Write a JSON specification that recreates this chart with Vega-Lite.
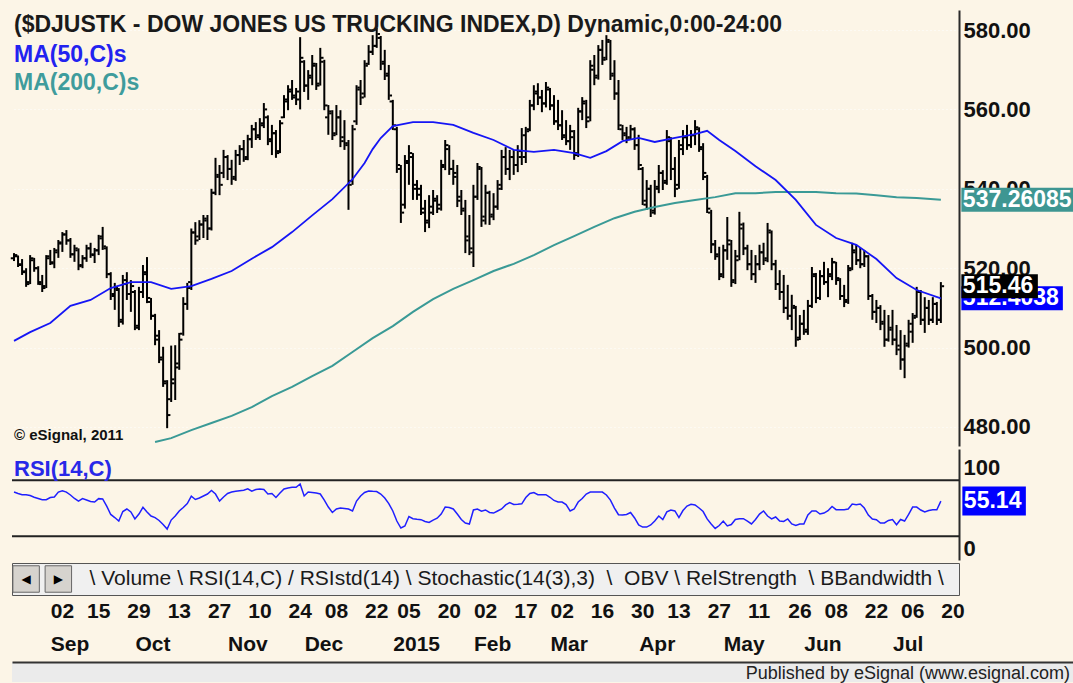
{
"$schema":"https://vega.github.io/schema/vega-lite/v6.json",
"background":"#FCF5E7",
"padding":{"left":10,"top":10,"right":0,"bottom":0},
"config":{"view":{"stroke":null},"font":"Liberation Sans","axis":{"labelFont":"Liberation Sans"}},
"datasets":{
"bars":[
{"d":"2014-08-19","o":522.5,"h":523.8,"l":521.8,"c":523.3,"r":61.6},
{"d":"2014-08-20","o":523,"h":523.2,"l":520.3,"c":520.8,"r":60.6},
{"d":"2014-08-21","o":521,"h":522.3,"l":518.3,"c":519,"r":59.7},
{"d":"2014-08-22","o":519.2,"h":520,"l":515.3,"c":516,"r":59.7},
{"d":"2014-08-25","o":516.5,"h":523.3,"l":516,"c":522.5,"r":59.1},
{"d":"2014-08-26","o":522,"h":522.6,"l":519.1,"c":520,"r":57.9},
{"d":"2014-08-27","o":520,"h":520.5,"l":515.8,"c":516.5,"r":57},
{"d":"2014-08-28","o":516,"h":518.3,"l":514,"c":515,"r":56.1},
{"d":"2014-08-29","o":515.5,"h":523.3,"l":515,"c":522.5,"r":56.1},
{"d":"2014-09-02","o":523,"h":524.6,"l":520.8,"c":521.5,"r":57.7},
{"d":"2014-09-03","o":521.2,"h":525.1,"l":520,"c":524.5,"r":58.1},
{"d":"2014-09-04","o":524,"h":527.1,"l":522.6,"c":526.5,"r":61.6},
{"d":"2014-09-05","o":526.2,"h":529.1,"l":524.1,"c":528.5,"r":62.5},
{"d":"2014-09-08","o":528.5,"h":529.6,"l":525.9,"c":527,"r":61.6},
{"d":"2014-09-09","o":527,"h":527.6,"l":522.6,"c":523.5,"r":59.5},
{"d":"2014-09-10","o":523.5,"h":525.9,"l":521.6,"c":525,"r":57},
{"d":"2014-09-11","o":524.5,"h":525,"l":519.5,"c":520.5,"r":55.2},
{"d":"2014-09-12","o":520.8,"h":523.3,"l":520,"c":522.5,"r":56.9},
{"d":"2014-09-15","o":522.5,"h":525.9,"l":521.6,"c":525,"r":55.9},
{"d":"2014-09-16","o":525,"h":526.4,"l":522.6,"c":523.5,"r":54.9},
{"d":"2014-09-17","o":523.3,"h":525.1,"l":521.3,"c":524.5,"r":54.5},
{"d":"2014-09-18","o":524.5,"h":528.4,"l":523.3,"c":527.5,"r":56.9},
{"d":"2014-09-19","o":528,"h":530.4,"l":524.6,"c":525.5,"r":56.7},
{"d":"2014-09-22","o":525,"h":525.5,"l":517.5,"c":518.5,"r":51.6},
{"d":"2014-09-23","o":518.5,"h":519,"l":512,"c":513.5,"r":45.6},
{"d":"2014-09-24","o":513,"h":516.3,"l":509.5,"c":515,"r":43.4},
{"d":"2014-09-25","o":514.5,"h":515,"l":505.2,"c":506.5,"r":40.9},
{"d":"2014-09-26","o":507,"h":518.3,"l":505.8,"c":517,"r":47.7},
{"d":"2014-09-29","o":516,"h":519,"l":512,"c":513.5,"r":49.5},
{"d":"2014-09-30","o":513.5,"h":517,"l":509,"c":515.5,"r":47.4},
{"d":"2014-10-01","o":514,"h":514.5,"l":504.4,"c":505.5,"r":42.4},
{"d":"2014-10-02","o":505,"h":515.3,"l":504.4,"c":514,"r":45.9},
{"d":"2014-10-03","o":514,"h":520.8,"l":512.5,"c":518.5,"r":50.7},
{"d":"2014-10-06","o":519,"h":522.8,"l":511.2,"c":512.5,"r":47.4},
{"d":"2014-10-07","o":511.5,"h":512.5,"l":507,"c":508,"r":44.5},
{"d":"2014-10-08","o":508,"h":508.5,"l":500.6,"c":502,"r":43.4},
{"d":"2014-10-09","o":503,"h":504.4,"l":496.1,"c":497.5,"r":41.3},
{"d":"2014-10-10","o":497,"h":500.2,"l":490.1,"c":491.5,"r":38.4},
{"d":"2014-10-13","o":491,"h":491.8,"l":479.7,"c":483,"r":35.2},
{"d":"2014-10-14","o":487,"h":500.5,"l":486.3,"c":492,"r":41.6},
{"d":"2014-10-15","o":491,"h":500.6,"l":486.8,"c":495,"r":44.5},
{"d":"2014-10-16","o":496,"h":503.7,"l":494.4,"c":502,"r":48.1},
{"d":"2014-10-17","o":503.5,"h":512.7,"l":503,"c":511,"r":50.6},
{"d":"2014-10-20","o":511,"h":516.3,"l":509.5,"c":515,"r":53.4},
{"d":"2014-10-21","o":516.5,"h":530,"l":514.5,"c":529,"r":58.6},
{"d":"2014-10-22","o":529,"h":531.6,"l":525.9,"c":527,"r":56.3},
{"d":"2014-10-23","o":528,"h":532.1,"l":527.1,"c":531,"r":57.4},
{"d":"2014-10-24","o":531,"h":533.4,"l":527.6,"c":532.5,"r":58.8},
{"d":"2014-10-27","o":532,"h":533.4,"l":527.1,"c":530,"r":60.2},
{"d":"2014-10-28","o":530,"h":540,"l":529.5,"c":539,"r":62.7},
{"d":"2014-10-29","o":539,"h":547.8,"l":538.4,"c":543.5,"r":60.2},
{"d":"2014-10-30","o":543,"h":546,"l":538.4,"c":541,"r":55.2},
{"d":"2014-10-31","o":544,"h":549.8,"l":542.7,"c":548,"r":58.1},
{"d":"2014-11-03","o":548,"h":548.5,"l":542.2,"c":545,"r":60.6},
{"d":"2014-11-04","o":545,"h":547.3,"l":541,"c":542.5,"r":61.6},
{"d":"2014-11-05","o":543,"h":549.8,"l":542,"c":548.5,"r":62.1},
{"d":"2014-11-06","o":548.5,"h":551,"l":546,"c":550,"r":62.6},
{"d":"2014-11-07","o":550,"h":552.3,"l":546.8,"c":547.5,"r":62.9},
{"d":"2014-11-10","o":548,"h":553.6,"l":547.2,"c":552.5,"r":63.9},
{"d":"2014-11-11","o":552.5,"h":556.1,"l":550.3,"c":555,"r":62.2},
{"d":"2014-11-12","o":555,"h":556.8,"l":552.3,"c":553,"r":63.4},
{"d":"2014-11-13","o":553.5,"h":557.8,"l":552.3,"c":556.5,"r":63.8},
{"d":"2014-11-14","o":556,"h":561.6,"l":555.3,"c":560,"r":63.4},
{"d":"2014-11-17","o":558,"h":558.5,"l":551,"c":552.5,"r":60.2},
{"d":"2014-11-18","o":552,"h":556.1,"l":548.5,"c":554,"r":60.6},
{"d":"2014-11-19","o":554,"h":554.8,"l":547.8,"c":549,"r":57.7},
{"d":"2014-11-20","o":549.5,"h":557.3,"l":549,"c":556.5,"r":60.9},
{"d":"2014-11-21","o":558,"h":563.6,"l":557.8,"c":562.5,"r":63.8},
{"d":"2014-11-24","o":562,"h":566.1,"l":559.8,"c":564.5,"r":64.5},
{"d":"2014-11-25","o":565,"h":567.4,"l":562.4,"c":563.5,"r":65},
{"d":"2014-11-26","o":563,"h":565.4,"l":561.1,"c":564.5,"r":65},
{"d":"2014-11-28","o":562.5,"h":578.2,"l":560,"c":573,"r":67.4},
{"d":"2014-12-01","o":572,"h":572.4,"l":564.4,"c":566,"r":58.8},
{"d":"2014-12-02","o":566,"h":569.9,"l":562.4,"c":568.5,"r":61.6},
{"d":"2014-12-03","o":568,"h":573.7,"l":566.1,"c":571.5,"r":61.3},
{"d":"2014-12-04","o":571,"h":571.7,"l":564.9,"c":566,"r":60.9},
{"d":"2014-12-05","o":566.5,"h":575.5,"l":566,"c":573,"r":60.2},
{"d":"2014-12-08","o":572,"h":572.5,"l":559.8,"c":561,"r":55.9},
{"d":"2014-12-09","o":558,"h":561.1,"l":553.6,"c":559.5,"r":50.9},
{"d":"2014-12-10","o":559,"h":559.8,"l":552.3,"c":553.5,"r":47},
{"d":"2014-12-11","o":554,"h":561.1,"l":553.5,"c":558,"r":49.5},
{"d":"2014-12-12","o":558,"h":559.8,"l":550.5,"c":552,"r":50.2},
{"d":"2014-12-15","o":553,"h":557.3,"l":549.8,"c":551.5,"r":49.9},
{"d":"2014-12-16","o":551,"h":552.3,"l":534.7,"c":541,"r":49.5},
{"d":"2014-12-17","o":542,"h":556.1,"l":541,"c":555,"r":48.1},
{"d":"2014-12-18","o":557,"h":566.1,"l":556.1,"c":565,"r":55.2},
{"d":"2014-12-19","o":565.5,"h":567.4,"l":561.1,"c":563,"r":58.8},
{"d":"2014-12-22","o":564,"h":572.4,"l":563,"c":571,"r":61.3},
{"d":"2014-12-23","o":571.5,"h":576.2,"l":571.2,"c":574.5,"r":62.4},
{"d":"2014-12-24","o":574.5,"h":578.7,"l":573.7,"c":576,"r":62.1},
{"d":"2014-12-26","o":576,"h":580.5,"l":575.5,"c":579,"r":62},
{"d":"2014-12-29","o":578,"h":578.5,"l":569.9,"c":571.5,"r":60.2},
{"d":"2014-12-30","o":572,"h":575,"l":567.4,"c":568.5,"r":57.4},
{"d":"2014-12-31","o":569,"h":571.2,"l":562.4,"c":563.5,"r":53.4},
{"d":"2015-01-02","o":562,"h":562.4,"l":554.8,"c":556,"r":48.1},
{"d":"2015-01-05","o":555,"h":555.6,"l":544,"c":546,"r":40.9},
{"d":"2015-01-06","o":545,"h":546,"l":531.4,"c":534,"r":35.9},
{"d":"2015-01-07","o":536,"h":548.5,"l":535,"c":546.5,"r":37.4},
{"d":"2015-01-08","o":547,"h":551,"l":541,"c":549,"r":44.1},
{"d":"2015-01-09","o":548,"h":549,"l":537.2,"c":540,"r":42.6},
{"d":"2015-01-12","o":541,"h":542.2,"l":537.2,"c":538.5,"r":42.2},
{"d":"2015-01-13","o":540,"h":541,"l":533.4,"c":535,"r":41.9},
{"d":"2015-01-14","o":534,"h":537.2,"l":529.1,"c":531.5,"r":40.6},
{"d":"2015-01-15","o":532,"h":538.4,"l":530.1,"c":535.5,"r":39.9},
{"d":"2015-01-16","o":534,"h":539.7,"l":533.4,"c":537.5,"r":41.6},
{"d":"2015-01-20","o":537,"h":538.4,"l":533.9,"c":535,"r":42.9},
{"d":"2015-01-21","o":536,"h":547.3,"l":534.5,"c":545.5,"r":45.9},
{"d":"2015-01-22","o":546,"h":552.3,"l":544.7,"c":551,"r":50.9},
{"d":"2015-01-23","o":550,"h":551,"l":543.5,"c":545,"r":50.6},
{"d":"2015-01-26","o":545,"h":547.3,"l":541,"c":544,"r":49.5},
{"d":"2015-01-27","o":543,"h":546,"l":535.4,"c":537,"r":45.9},
{"d":"2015-01-28","o":538,"h":539.7,"l":533.4,"c":534.5,"r":42},
{"d":"2015-01-29","o":535,"h":537.2,"l":523.8,"c":527,"r":39.5},
{"d":"2015-01-30","o":528,"h":533.4,"l":523.3,"c":525,"r":38.8},
{"d":"2015-02-02","o":524,"h":541,"l":520.3,"c":538,"r":48.8},
{"d":"2015-02-03","o":538,"h":546.5,"l":537.2,"c":545.5,"r":49.5},
{"d":"2015-02-04","o":545,"h":545.5,"l":530.4,"c":532,"r":47.9},
{"d":"2015-02-05","o":533,"h":541,"l":531,"c":539,"r":48.8},
{"d":"2015-02-06","o":539,"h":539.5,"l":530.9,"c":533,"r":47},
{"d":"2015-02-09","o":533.5,"h":538.9,"l":532.1,"c":535.5,"r":46.6},
{"d":"2015-02-10","o":535.5,"h":542.2,"l":534.7,"c":541,"r":48.1},
{"d":"2015-02-11","o":540,"h":549.8,"l":539.7,"c":548,"r":49.5},
{"d":"2015-02-12","o":548,"h":550.5,"l":543.5,"c":545,"r":52.4},
{"d":"2015-02-13","o":545,"h":549.8,"l":542.2,"c":548,"r":54.1},
{"d":"2015-02-17","o":548,"h":549.8,"l":543.5,"c":546,"r":52.7},
{"d":"2015-02-18","o":546,"h":551,"l":544.2,"c":549.5,"r":52.9},
{"d":"2015-02-19","o":548,"h":555.3,"l":546,"c":553.5,"r":53.2},
{"d":"2015-02-20","o":548,"h":555.6,"l":546.5,"c":554.5,"r":57.7},
{"d":"2015-02-23","o":555,"h":562.4,"l":554.5,"c":561,"r":60.6},
{"d":"2015-02-24","o":561,"h":566.1,"l":559.8,"c":564,"r":61.3},
{"d":"2015-02-25","o":564.5,"h":566.6,"l":561.1,"c":563,"r":59.7},
{"d":"2015-02-26","o":563,"h":564.9,"l":559.3,"c":561.5,"r":59.7},
{"d":"2015-02-27","o":561.5,"h":566.9,"l":560.5,"c":565.5,"r":59.7},
{"d":"2015-03-02","o":565,"h":565.4,"l":559.8,"c":561,"r":57.9},
{"d":"2015-03-03","o":561,"h":563.6,"l":556.1,"c":557,"r":55.6},
{"d":"2015-03-04","o":557,"h":562.4,"l":554.8,"c":556,"r":54.5},
{"d":"2015-03-05","o":556,"h":559.8,"l":552.3,"c":553.5,"r":54.5},
{"d":"2015-03-06","o":553,"h":557.3,"l":551,"c":552,"r":52.7},
{"d":"2015-03-09","o":552,"h":556.1,"l":549.8,"c":554.5,"r":48.1},
{"d":"2015-03-10","o":553,"h":554.8,"l":547.3,"c":548.5,"r":49.5},
{"d":"2015-03-11","o":549,"h":560.4,"l":548,"c":559.5,"r":54.5},
{"d":"2015-03-12","o":559.5,"h":563.1,"l":557.3,"c":562,"r":57},
{"d":"2015-03-13","o":561.5,"h":562.4,"l":555.3,"c":557,"r":60.2},
{"d":"2015-03-16","o":558,"h":572.4,"l":557,"c":571,"r":61.6},
{"d":"2015-03-17","o":570,"h":573.7,"l":566.1,"c":568,"r":61.6},
{"d":"2015-03-18","o":568.5,"h":576.2,"l":567.5,"c":575,"r":61.6},
{"d":"2015-03-19","o":575,"h":577.5,"l":571.2,"c":572.5,"r":61.6},
{"d":"2015-03-20","o":573,"h":578.7,"l":572.4,"c":577.5,"r":59.5},
{"d":"2015-03-23","o":577,"h":577.5,"l":567.4,"c":568.5,"r":55.9},
{"d":"2015-03-24","o":569,"h":572.4,"l":562.4,"c":564,"r":50.2},
{"d":"2015-03-25","o":564,"h":567.4,"l":554.8,"c":556,"r":45.4},
{"d":"2015-03-26","o":555,"h":556.1,"l":552.3,"c":554,"r":45.2},
{"d":"2015-03-27","o":553.5,"h":555.6,"l":551.5,"c":552.5,"r":45.6},
{"d":"2015-03-30","o":553,"h":556.1,"l":552.3,"c":555,"r":47},
{"d":"2015-03-31","o":555,"h":555.5,"l":549.8,"c":551,"r":43.1},
{"d":"2015-04-01","o":551,"h":553.6,"l":544.7,"c":546,"r":38.1},
{"d":"2015-04-02","o":545,"h":545.5,"l":535.9,"c":537,"r":36.6},
{"d":"2015-04-06","o":536,"h":542.2,"l":534.7,"c":540,"r":36.6},
{"d":"2015-04-07","o":540,"h":541,"l":532.9,"c":534,"r":38.1},
{"d":"2015-04-08","o":534.5,"h":542.2,"l":533.5,"c":540.5,"r":40.9},
{"d":"2015-04-09","o":540,"h":546,"l":538.9,"c":544,"r":44.5},
{"d":"2015-04-10","o":544,"h":544.7,"l":539.7,"c":541.5,"r":42},
{"d":"2015-04-13","o":542,"h":554.8,"l":541,"c":553,"r":47.4},
{"d":"2015-04-14","o":552,"h":553,"l":542.2,"c":545,"r":48.8},
{"d":"2015-04-15","o":545,"h":548,"l":537.9,"c":540,"r":48.1},
{"d":"2015-04-16","o":541,"h":552.3,"l":540,"c":551,"r":43.4},
{"d":"2015-04-17","o":550,"h":554.8,"l":548.5,"c":553,"r":48.4},
{"d":"2015-04-20","o":553,"h":556.1,"l":549.8,"c":551,"r":51.6},
{"d":"2015-04-21","o":551,"h":554.8,"l":550.3,"c":553.5,"r":52.9},
{"d":"2015-04-22","o":553.5,"h":557.3,"l":551,"c":555.5,"r":52.4},
{"d":"2015-04-23","o":555,"h":555.5,"l":549.3,"c":550.5,"r":50.2},
{"d":"2015-04-24","o":550,"h":551.5,"l":542.2,"c":544,"r":47.7},
{"d":"2015-04-27","o":543,"h":543.5,"l":533.9,"c":535,"r":42.4},
{"d":"2015-04-28","o":534,"h":534.7,"l":523.8,"c":526,"r":38.8},
{"d":"2015-04-29","o":526,"h":527.1,"l":522.1,"c":523.5,"r":35.6},
{"d":"2015-04-30","o":523,"h":525.4,"l":517,"c":518,"r":37.7},
{"d":"2015-05-01","o":518.5,"h":525.9,"l":517.5,"c":524.5,"r":40.9},
{"d":"2015-05-04","o":524.5,"h":532.9,"l":522.1,"c":527,"r":37.4},
{"d":"2015-05-05","o":526,"h":527.1,"l":515.3,"c":516.5,"r":38.4},
{"d":"2015-05-06","o":517,"h":524.6,"l":516,"c":522,"r":42},
{"d":"2015-05-07","o":523,"h":534.2,"l":522,"c":530,"r":42.6},
{"d":"2015-05-08","o":531,"h":531.5,"l":523.3,"c":525,"r":42.6},
{"d":"2015-05-11","o":525,"h":525.9,"l":519.5,"c":521,"r":40.9},
{"d":"2015-05-12","o":521,"h":524.6,"l":517,"c":518.5,"r":38.8},
{"d":"2015-05-13","o":518.5,"h":523.3,"l":516.3,"c":521,"r":42},
{"d":"2015-05-14","o":521,"h":525.9,"l":519.5,"c":524,"r":45.9},
{"d":"2015-05-15","o":524,"h":526.4,"l":520.8,"c":522,"r":48.1},
{"d":"2015-05-18","o":522.5,"h":531.4,"l":521.5,"c":529.5,"r":44.5},
{"d":"2015-05-19","o":529,"h":529.5,"l":519.5,"c":521,"r":42.4},
{"d":"2015-05-20","o":521,"h":522.1,"l":514.5,"c":516,"r":43.8},
{"d":"2015-05-21","o":516,"h":519.5,"l":512,"c":514,"r":40.9},
{"d":"2015-05-22","o":514,"h":518.3,"l":508.7,"c":510,"r":40.6},
{"d":"2015-05-26","o":510,"h":515.8,"l":507,"c":508,"r":42.4},
{"d":"2015-05-27","o":508,"h":513.3,"l":504.4,"c":510.5,"r":38.8},
{"d":"2015-05-28","o":510,"h":510.5,"l":500.2,"c":502,"r":37.7},
{"d":"2015-05-29","o":502.5,"h":508.2,"l":501.9,"c":506,"r":38.8},
{"d":"2015-06-01","o":506,"h":509.5,"l":503.2,"c":504.5,"r":38.8},
{"d":"2015-06-02","o":504,"h":512,"l":503.2,"c":510.5,"r":45.2},
{"d":"2015-06-03","o":510.5,"h":520.3,"l":510,"c":518.5,"r":48.1},
{"d":"2015-06-04","o":518,"h":518.8,"l":511.2,"c":512.5,"r":48.1},
{"d":"2015-06-05","o":512.5,"h":519.5,"l":512,"c":518,"r":45.9},
{"d":"2015-06-08","o":518,"h":521.6,"l":515.8,"c":516.5,"r":46.6},
{"d":"2015-06-09","o":516.5,"h":520,"l":512.7,"c":518,"r":48.3},
{"d":"2015-06-10","o":518.5,"h":522.6,"l":517,"c":521.5,"r":51.3},
{"d":"2015-06-11","o":521.5,"h":521.6,"l":515.8,"c":517.5,"r":49},
{"d":"2015-06-12","o":517,"h":517.5,"l":512,"c":513,"r":49},
{"d":"2015-06-15","o":513,"h":515.8,"l":510.2,"c":511.5,"r":49},
{"d":"2015-06-16","o":512,"h":520.8,"l":511,"c":519.5,"r":49.5},
{"d":"2015-06-17","o":520,"h":526.4,"l":519.5,"c":524.5,"r":53.1},
{"d":"2015-06-18","o":524,"h":525.9,"l":520.8,"c":522,"r":52.6},
{"d":"2015-06-19","o":522,"h":525.1,"l":520,"c":521,"r":53.1},
{"d":"2015-06-22","o":521,"h":524.6,"l":520.3,"c":523,"r":50.2},
{"d":"2015-06-23","o":523,"h":523.3,"l":512,"c":513,"r":45.2},
{"d":"2015-06-24","o":513,"h":513.5,"l":507,"c":509,"r":42.4},
{"d":"2015-06-25","o":509,"h":512,"l":506.2,"c":510,"r":41.9},
{"d":"2015-06-26","o":510,"h":510.7,"l":504.4,"c":506.5,"r":39.5},
{"d":"2015-06-29","o":506,"h":509.5,"l":500.2,"c":502,"r":39.5},
{"d":"2015-06-30","o":502,"h":508.2,"l":501.5,"c":504.5,"r":41.3},
{"d":"2015-07-01","o":505,"h":509.5,"l":500.6,"c":502,"r":42},
{"d":"2015-07-02","o":502,"h":505.7,"l":498.1,"c":500.5,"r":38.3},
{"d":"2015-07-06","o":499.5,"h":504.4,"l":494.4,"c":497,"r":42},
{"d":"2015-07-07","o":497,"h":503.2,"l":492.3,"c":501,"r":40.9},
{"d":"2015-07-08","o":500.5,"h":507,"l":500,"c":506,"r":45.6},
{"d":"2015-07-09","o":504,"h":508.7,"l":501.2,"c":507.5,"r":50.9},
{"d":"2015-07-10","o":508,"h":515.3,"l":507.5,"c":514,"r":50.9},
{"d":"2015-07-13","o":514,"h":514.5,"l":505.7,"c":507,"r":48.8},
{"d":"2015-07-14","o":507,"h":512.7,"l":503.7,"c":510,"r":47.4},
{"d":"2015-07-15","o":510,"h":512,"l":505.7,"c":507,"r":48.4},
{"d":"2015-07-16","o":507,"h":512.7,"l":506.2,"c":511,"r":49},
{"d":"2015-07-17","o":511,"h":511.5,"l":505.7,"c":507,"r":49},
{"d":"2015-07-20","o":507,"h":516.5,"l":506.2,"c":515.46,"r":55.14},
{"d":"2015-07-21"},{"d":"2015-07-22"},{"d":"2015-07-23"},{"d":"2015-07-24"}
],
"ma50":[
{"d":"2014-08-19","v":501.7},{"d":"2014-08-25","v":503.9},{"d":"2014-09-02","v":506.2},{"d":"2014-09-09","v":510.5},{"d":"2014-09-16","v":512},{"d":"2014-09-23","v":515},{"d":"2014-09-30","v":516.5},{"d":"2014-10-07","v":516.5},{"d":"2014-10-14","v":514.8},{"d":"2014-10-21","v":515.5},{"d":"2014-10-28","v":517.3},{"d":"2014-11-04","v":519.3},{"d":"2014-11-11","v":522.4},{"d":"2014-11-18","v":525.3},{"d":"2014-11-25","v":529.1},{"d":"2014-12-03","v":533.3},{"d":"2014-12-10","v":537.4},{"d":"2014-12-17","v":542.4},{"d":"2014-12-22","v":546.5},{"d":"2014-12-24","v":550},{"d":"2014-12-29","v":552.8},{"d":"2015-01-02","v":555.8},{"d":"2015-01-09","v":556.8},{"d":"2015-01-16","v":556.8},{"d":"2015-01-26","v":556.1},{"d":"2015-02-02","v":554.1},{"d":"2015-02-09","v":552.3},{"d":"2015-02-17","v":549.8},{"d":"2015-02-24","v":549.3},{"d":"2015-03-03","v":549.8},{"d":"2015-03-10","v":549},{"d":"2015-03-16","v":547.8},{"d":"2015-03-20","v":549.5},{"d":"2015-03-26","v":552},{"d":"2015-04-01","v":552.8},{"d":"2015-04-08","v":551.8},{"d":"2015-04-15","v":552.8},{"d":"2015-04-22","v":553.8},{"d":"2015-04-27","v":554.6},{"d":"2015-04-30","v":552.3},{"d":"2015-05-06","v":549.5},{"d":"2015-05-13","v":545.7},{"d":"2015-05-20","v":542.2},{"d":"2015-05-28","v":537.2},{"d":"2015-06-04","v":530.9},{"d":"2015-06-11","v":527.6},{"d":"2015-06-18","v":525.9},{"d":"2015-06-25","v":522.3},{"d":"2015-07-02","v":517.5},{"d":"2015-07-10","v":514.5},{"d":"2015-07-20","v":512.4038}
],
"ma200":[
{"d":"2014-10-08","v":476.2},{"d":"2014-10-14","v":477.2},{"d":"2014-10-21","v":479.2},{"d":"2014-10-28","v":481},{"d":"2014-11-04","v":482.8},{"d":"2014-11-11","v":485},{"d":"2014-11-18","v":487.8},{"d":"2014-11-25","v":490.1},{"d":"2014-12-03","v":492.8},{"d":"2014-12-10","v":495.4},{"d":"2014-12-17","v":498.9},{"d":"2014-12-24","v":502.4},{"d":"2015-01-02","v":505.4},{"d":"2015-01-09","v":509},{"d":"2015-01-16","v":512.2},{"d":"2015-01-26","v":514.8},{"d":"2015-02-02","v":517},{"d":"2015-02-09","v":519.3},{"d":"2015-02-17","v":521.1},{"d":"2015-02-24","v":523.3},{"d":"2015-03-03","v":525.8},{"d":"2015-03-10","v":528.1},{"d":"2015-03-17","v":530.4},{"d":"2015-03-24","v":532.6},{"d":"2015-03-31","v":534.2},{"d":"2015-04-08","v":535.4},{"d":"2015-04-15","v":536.4},{"d":"2015-04-22","v":537.2},{"d":"2015-04-29","v":537.9},{"d":"2015-05-06","v":538.9},{"d":"2015-05-13","v":538.9},{"d":"2015-05-20","v":539.2},{"d":"2015-05-28","v":539.2},{"d":"2015-06-04","v":539.2},{"d":"2015-06-11","v":538.9},{"d":"2015-06-18","v":538.8},{"d":"2015-06-25","v":538.4},{"d":"2015-07-02","v":537.9},{"d":"2015-07-10","v":537.7},{"d":"2015-07-20","v":537.26085}
],
"last":[
{"d":"2015-07-20","s":"MA200","v":537.26085},
{"d":"2015-07-20","s":"MA50","v":512.4038},
{"d":"2015-07-20","s":"Close","v":515.46},
{"d":"2015-07-20","s":"RSI","v":55.14}
]
},
"spacing":2,
"vconcat":[
{
"width":947,"height":436,
"resolve":{"axis":{"y":"independent"}},
"layer":[
{"data":{"name":"bars"},"mark":{"type":"rule","color":"#000000","strokeWidth":2},
 "encoding":{"x":{"field":"d","type":"ordinal","title":null,"scale":{"type":"point","padding":0.5},
  "axis":{"orient":"bottom","values":["2014-09-02","2014-10-01","2014-11-03","2014-12-01","2015-01-02","2015-02-02","2015-03-02","2015-04-01","2015-05-01","2015-06-01","2015-07-01"],"labels":false,"ticks":false,"domain":true,"domainColor":"#C2C2C2","domainWidth":6,"grid":true,"gridColor":"#FFFFFF","gridDash":[1,3],"gridWidth":1}},
  "y":{"field":"l","type":"quantitative","title":null,"scale":{"domain":[475.21,585.04],"nice":false,"zero":false},
   "axis":{"orient":"right","values":[480,500,520,540,560,580],"format":".2f","ticks":false,"domain":true,"domainColor":"#2A2A2A","domainWidth":2,"labelFontSize":22,"labelFontWeight":"bold","labelColor":"#111111","labelPadding":4,"labelAlign":"left","labelBaseline":"middle","labelOverlap":false,"labelBound":false,"grid":true,"gridColor":"#FFFFFF","gridDash":[1,3],"gridWidth":1}},
  "y2":{"field":"h"}}},
{"data":{"name":"bars"},"mark":{"type":"point","opacity":0},
 "encoding":{"x":{"field":"d","type":"ordinal","axis":null}}},
{"data":{"name":"bars"},"mark":{"type":"tick","color":"#000000","opacity":1,"size":2.5,"thickness":2,"xOffset":-2},
 "encoding":{"x":{"field":"d","type":"ordinal","axis":null},"y":{"field":"o","type":"quantitative","axis":null}}},
{"data":{"name":"bars"},"mark":{"type":"tick","color":"#000000","opacity":1,"size":2.5,"thickness":2,"xOffset":2},
 "encoding":{"x":{"field":"d","type":"ordinal","axis":null},"y":{"field":"c","type":"quantitative","axis":null}}},
{"data":{"name":"ma200"},"mark":{"type":"line","color":"#3A9A96","strokeWidth":2},
 "encoding":{"x":{"field":"d","type":"ordinal","axis":null},"y":{"field":"v","type":"quantitative","axis":null}}},
{"data":{"name":"ma50"},"mark":{"type":"line","color":"#1515F5","strokeWidth":1.8},
 "encoding":{"x":{"field":"d","type":"ordinal","axis":null},"y":{"field":"v","type":"quantitative","axis":null}}},
{"data":{"values":[{}]},"mark":{"type":"text","text":"($DJUSTK - DOW JONES US TRUCKING INDEX,D) Dynamic,0:00-24:00","align":"left","baseline":"alphabetic","fontSize":23,"fontWeight":"bold","color":"#1A1A1A"},
 "encoding":{"x":{"datum":"2014-08-19","type":"ordinal","axis":null},"y":{"datum":579.57,"type":"quantitative","axis":null}}},
{"data":{"values":[{}]},"mark":{"type":"text","text":"MA(50,C)s","align":"left","baseline":"alphabetic","fontSize":23,"fontWeight":"bold","color":"#2222F0"},
 "encoding":{"x":{"datum":"2014-08-19","type":"ordinal","axis":null},"y":{"datum":571.87,"type":"quantitative","axis":null}}},
{"data":{"values":[{}]},"mark":{"type":"text","text":"MA(200,C)s","align":"left","baseline":"alphabetic","fontSize":23,"fontWeight":"bold","color":"#3F9C9C"},
 "encoding":{"x":{"datum":"2014-08-19","type":"ordinal","axis":null},"y":{"datum":564.89,"type":"quantitative","axis":null}}},
{"data":{"values":[{}]},"mark":{"type":"text","text":"© eSignal, 2011","align":"left","baseline":"alphabetic","fontSize":15,"fontWeight":"bold","color":"#111111"},
 "encoding":{"x":{"datum":"2014-08-19","type":"ordinal","axis":null},"y":{"datum":476.73,"type":"quantitative","axis":null}}},
{"data":{"name":"last"},"transform":[{"filter":"datum.s == 'MA200'"}],"mark":{"type":"rect","color":"#3E9692","xOffset":20.5,"x2Offset":135,"yOffset":-12,"y2Offset":12},
 "encoding":{"x":{"field":"d","type":"ordinal","axis":null},"x2":{"field":"d"},"y":{"field":"v","type":"quantitative","axis":null},"y2":{"field":"v"}}},
{"data":{"name":"last"},"transform":[{"filter":"datum.s == 'MA200'"}],"mark":{"type":"text","align":"left","baseline":"middle","dx":22,"fontSize":23,"fontWeight":"bold","color":"#FFFFFF"},
 "encoding":{"x":{"field":"d","type":"ordinal","axis":null},"y":{"field":"v","type":"quantitative","axis":null},"text":{"field":"v","type":"nominal"}}},
{"data":{"name":"last"},"transform":[{"filter":"datum.s == 'MA50'"}],"mark":{"type":"rect","color":"#0000FF","xOffset":20.5,"x2Offset":122,"yOffset":-12,"y2Offset":12},
 "encoding":{"x":{"field":"d","type":"ordinal","axis":null},"x2":{"field":"d"},"y":{"field":"v","type":"quantitative","axis":null},"y2":{"field":"v"}}},
{"data":{"name":"last"},"transform":[{"filter":"datum.s == 'MA50'"}],"mark":{"type":"text","align":"left","baseline":"middle","dx":22,"fontSize":23,"fontWeight":"bold","color":"#FFFFFF"},
 "encoding":{"x":{"field":"d","type":"ordinal","axis":null},"y":{"field":"v","type":"quantitative","axis":null},"text":{"field":"v","type":"nominal"}}},
{"data":{"name":"last"},"transform":[{"filter":"datum.s == 'Close'"}],"mark":{"type":"rect","color":"#000000","xOffset":20.5,"x2Offset":97,"yOffset":-12,"y2Offset":12},
 "encoding":{"x":{"field":"d","type":"ordinal","axis":null},"x2":{"field":"d"},"y":{"field":"v","type":"quantitative","axis":null},"y2":{"field":"v"}}},
{"data":{"name":"last"},"transform":[{"filter":"datum.s == 'Close'"}],"mark":{"type":"text","align":"left","baseline":"middle","dx":22,"fontSize":23,"fontWeight":"bold","color":"#FFFFFF"},
 "encoding":{"x":{"field":"d","type":"ordinal","axis":null},"y":{"field":"v","type":"quantitative","axis":null},"text":{"field":"v","type":"nominal"}}}
]
},
{
"width":947,"height":111,
"resolve":{"axis":{"y":"independent"}},
"layer":[
{"data":{"name":"bars"},"mark":{"type":"line","color":"#1F1FFF","strokeWidth":1.5},
 "encoding":{"x":{"field":"d","type":"ordinal","title":null,"scale":{"type":"point","padding":0.5},
  "axis":{"orient":"bottom","values":["2014-09-02","2014-10-01","2014-11-03","2014-12-01","2015-01-02","2015-02-02","2015-03-02","2015-04-01","2015-05-01","2015-06-01","2015-07-01"],"labels":false,"ticks":false,"domain":false,"grid":true,"gridColor":"#FFFFFF","gridDash":[1,3],"gridWidth":1}},
  "y":{"field":"r","type":"quantitative","title":null,"scale":{"domain":[13.07,92.36],"nice":false,"zero":false},
   "axis":{"orient":"right","values":[78.8,21.6],"labelExpr":"datum.value > 50 ? '100' : '0'","ticks":false,"grid":false,"domain":true,"domainColor":"#2A2A2A","domainWidth":2,"labelFontSize":22,"labelFontWeight":"bold","labelColor":"#111111","labelPadding":4,"labelAlign":"left","labelBaseline":"middle","labelOverlap":false,"labelBound":false}}}},
{"data":{"name":"bars"},"mark":{"type":"point","opacity":0},
 "encoding":{"x":{"field":"d","type":"ordinal","axis":null}}},
{"data":{"values":[{"lv":70},{"lv":30}]},"mark":{"type":"rule","color":"#222222","strokeWidth":2},
 "encoding":{"y":{"field":"lv","type":"quantitative","axis":null}}},
{"data":{"values":[{}]},"mark":{"type":"text","text":"RSI(14,C)","align":"left","baseline":"alphabetic","fontSize":22,"fontWeight":"bold","color":"#2828E8"},
 "encoding":{"x":{"datum":"2014-08-19","type":"ordinal","axis":null},"y":{"datum":73.07,"type":"quantitative","axis":null}}},
{"data":{"name":"last"},"transform":[{"filter":"datum.s == 'RSI'"}],"mark":{"type":"rect","color":"#0000FF","xOffset":21.5,"x2Offset":85,"yOffset":-14.5,"y2Offset":14.5},
 "encoding":{"x":{"field":"d","type":"ordinal","axis":null},"x2":{"field":"d"},"y":{"field":"v","type":"quantitative","axis":null},"y2":{"field":"v"}}},
{"data":{"name":"last"},"transform":[{"filter":"datum.s == 'RSI'"}],"mark":{"type":"text","align":"left","baseline":"middle","dx":23,"fontSize":23,"fontWeight":"bold","color":"#FFFFFF"},
 "encoding":{"x":{"field":"d","type":"ordinal","axis":null},"y":{"field":"v","type":"quantitative","axis":null},"text":{"field":"v","type":"nominal"}}}
]
},
{
"width":947,"height":32,
"view":{"fill":"#F0F0F0","stroke":"#555555","strokeWidth":1},
"resolve":{"axis":{"x":"independent"}},
"layer":[
{"data":{"name":"bars"},"mark":{"type":"point","opacity":0},
 "encoding":{"x":{"field":"d","type":"ordinal","title":null,"scale":{"type":"point","padding":0.5},
  "axis":{"orient":"bottom","values":["2014-09-02","2014-09-15","2014-09-29","2014-10-13","2014-10-27","2014-11-10","2014-11-24","2014-12-08","2014-12-22","2015-01-05","2015-01-20","2015-02-02","2015-02-17","2015-03-02","2015-03-16","2015-03-30","2015-04-13","2015-04-27","2015-05-11","2015-05-26","2015-06-08","2015-06-22","2015-07-06","2015-07-20"],
   "labelExpr":"substring(datum.value, 8, 10)","labelAngle":0,"labelAlign":"left","labelBaseline":"top","labelFontSize":21,"labelFontWeight":"bold","labelColor":"#111111","labelPadding":5,"ticks":false,"domain":false,"grid":false,"labelOverlap":false,"labelBound":false,"labelFlush":false}},
  "y":{"datum":0.5,"type":"quantitative","scale":{"domain":[0,1]},"axis":null}}},
{"data":{"name":"bars"},"mark":{"type":"point","opacity":0},
 "encoding":{"x":{"field":"d","type":"ordinal","title":null,"scale":{"type":"point","padding":0.5},
  "axis":{"orient":"bottom","offset":33,"values":["2014-09-02","2014-10-01","2014-11-03","2014-12-01","2015-01-02","2015-02-02","2015-03-02","2015-04-01","2015-05-01","2015-06-01","2015-07-01"],
   "labelExpr":"datum.value == '2015-01-02' ? '2015' : ['Jan','Feb','Mar','Apr','May','Jun','Jul','Aug','Sep','Oct','Nov','Dec'][toNumber(substring(datum.value, 5, 7)) - 1]","labelAngle":0,"labelAlign":"left","labelBaseline":"top","labelFontSize":21,"labelFontWeight":"bold","labelColor":"#111111","labelPadding":5,"ticks":false,"domain":false,"grid":false,"labelOverlap":false,"labelBound":false,"labelFlush":false}},
  "y":{"datum":0.5,"type":"quantitative","axis":null}}},
{"data":{"values":[{}]},"mark":{"type":"square","size":700,"color":"#D6D3CE","stroke":"#666666","strokeWidth":1,"opacity":1,"filled":true},
 "encoding":{"x":{"datum":"2014-08-22","type":"ordinal","axis":null},"y":{"datum":0.5,"type":"quantitative","axis":null}}},
{"data":{"values":[{}]},"mark":{"type":"square","size":700,"color":"#D6D3CE","stroke":"#666666","strokeWidth":1,"opacity":1,"filled":true},
 "encoding":{"x":{"datum":"2014-09-04","type":"ordinal","axis":null},"y":{"datum":0.5,"type":"quantitative","axis":null}}},
{"data":{"values":[{}]},"mark":{"type":"text","text":"◀","align":"center","baseline":"middle","font":"DejaVu Sans","fontSize":12,"color":"#000000"},
 "encoding":{"x":{"datum":"2014-08-22","type":"ordinal","axis":null},"y":{"datum":0.5,"type":"quantitative","axis":null}}},
{"data":{"values":[{}]},"mark":{"type":"text","text":"▶","align":"center","baseline":"middle","font":"DejaVu Sans","fontSize":12,"color":"#000000"},
 "encoding":{"x":{"datum":"2014-09-04","type":"ordinal","axis":null},"y":{"datum":0.5,"type":"quantitative","axis":null}}},
{"data":{"values":[{}]},"mark":{"type":"text","text":"\\\u00a0Volume\u00a0\\\u00a0RSI(14,C)\u00a0/\u00a0RSIstd(14)\u00a0\\\u00a0Stochastic(14(3),3)\u00a0\u00a0\\\u00a0\u00a0OBV\u00a0\\\u00a0RelStrength\u00a0\u00a0\\\u00a0BBandwidth\u00a0\\","align":"left","baseline":"middle","dx":-1,"fontSize":21,"color":"#1A1A1A"},
 "encoding":{"x":{"datum":"2014-09-16","type":"ordinal","axis":null},"y":{"datum":0.5,"type":"quantitative","axis":null}}}
]
},
{
"width":1063,"height":20,
"view":{"fill":"#EBEBEB","stroke":null},
"data":{"values":[{}]},
"mark":{"type":"text","text":"Published by eSignal (www.esignal.com)","align":"right","baseline":"middle","dx":-5,"dy":2,"fontSize":18,"color":"#222222"},
"encoding":{"x":{"datum":1,"type":"quantitative","title":null,"scale":{"domain":[0,1]},"axis":{"orient":"top","values":[0.5],"labels":true,"labelOpacity":0,"labelFontSize":4,"labelPadding":1,"ticks":false,"grid":false,"domain":true,"domainColor":"#333333","domainWidth":2}},
 "y":{"datum":0.5,"type":"quantitative","scale":{"domain":[0,1]},"axis":null}}
}
]
}
